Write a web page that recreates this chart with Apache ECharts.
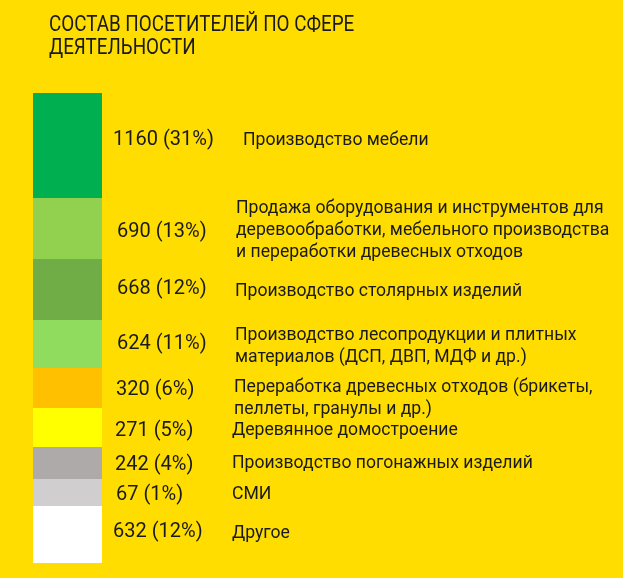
<!DOCTYPE html>
<html><head><meta charset="utf-8">
<script src="https://cdn.jsdelivr.net/npm/echarts@6/dist/echarts.min.js"></script>
<style>html,body{margin:0;padding:0;background:#FFDD00}#c{width:623px;height:578px}</style>
</head><body><div id="c"></div>
<script>
const titleText = 'СОСТАВ ПОСЕТИТЕЛЕЙ ПО СФЕРЕ\nДЕЯТЕЛЬНОСТИ';
const categories = [
  'Производство мебели',
  'Продажа оборудования и инструментов для\nдеревообработки, мебельного производства\nи переработки древесных отходов',
  'Производство столярных изделий',
  'Производство лесопродукции и плитных\nматериалов (ДСП, ДВП, МДФ и др.)',
  'Переработка древесных отходов (брикеты,\nпеллеты, гранулы и др.)',
  'Деревянное домостроение',
  'Производство погонажных изделий',
  'СМИ',
  'Другое'
];
const visitors = [1160, 690, 668, 624, 320, 271, 242, 67, 632];
const percents = [31, 13, 12, 11, 6, 5, 4, 1, 12];
// stacked extent of each segment as drawn in the infographic (not proportional to visitors)
const barExtent = [105, 61, 61, 48, 40, 39, 32, 27, 57];
const colors = ['#00B050', '#92D050', '#70AD47', '#8FDC5E', '#FFC000', '#FFFF00', '#AEAAAA', '#D0CECE', '#FFFFFF'];

// label nudges (style, not data)
const valueNudge = [[0,-5.5],[4,3.5],[4,-0.5],[4,0],[3,2],[2,3.5],[2,2],[3,2.5],[0,-2.5]];
const textNudge = [[11,-4.5],[4,2],[3,2],[3,3],[2,10.5],[0,3.5],[0,1],[0,2.5],[0,-0.5]];

const total = barExtent.reduce((a,b)=>a+b,0);
const FONT = 'Roboto';
const series = [];
categories.forEach((cat, i) => {
  series.push({
    type: 'bar', stack: 'bar', xAxisIndex: 0, yAxisIndex: 0,
    barWidth: 69,
    data: [barExtent[i]],
    itemStyle: { color: colors[i] },
    label: {
      show: true, position: 'right', distance: 11,
      offset: valueNudge[i],
      formatter: visitors[i] + ' (' + percents[i] + '%)',
      color: '#1a1a1a', fontFamily: FONT, fontSize: 20
    },
    silent: true, animation: false
  });
  series.push({
    type: 'bar', stack: 'txt', xAxisIndex: 1, yAxisIndex: 1,
    barWidth: '100%',
    data: [barExtent[i]],
    itemStyle: { color: 'rgba(0,0,0,0)' },
    label: {
      show: true, position: 'insideLeft', distance: 0,
      offset: textNudge[i],
      formatter: cat,
      color: '#1a1a1a', fontFamily: FONT, fontSize: 17.6, lineHeight: 22
    },
    silent: true, animation: false
  });
});

const chart = echarts.init(document.getElementById('c'), null, { renderer: 'canvas' });
chart.setOption({
  backgroundColor: '#FFDD00',
  animation: false,
  graphic: [{
    type: 'text', x: 49, y: 13.5, scaleX: 0.855, silent: true,
    style: {
      text: titleText, font: '22px Roboto', lineHeight: 23, fill: '#1a1a1a'
    }
  }],
  grid: [
    { left: 33, width: 69, top: 93, height: 470 },
    { left: 232, width: 380, top: 93, height: 470 }
  ],
  xAxis: [
    { type: 'category', gridIndex: 0, data: ['a'], show: false },
    { type: 'category', gridIndex: 1, data: ['a'], show: false }
  ],
  yAxis: [
    { type: 'value', gridIndex: 0, inverse: true, min: 0, max: total, show: false },
    { type: 'value', gridIndex: 1, inverse: true, min: 0, max: total, show: false }
  ],
  series: series
});
</script>
</body></html>
